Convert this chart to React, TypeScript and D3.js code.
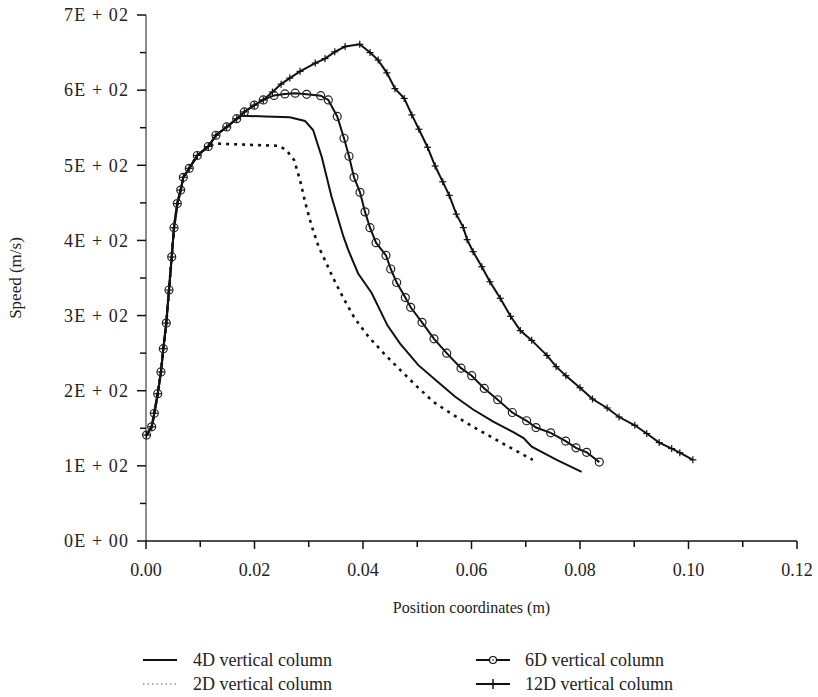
import React from "react";
import * as d3 from "d3";

// ---- data ----
const x6D = [0.0001,0.00105,0.00153,0.00216,0.00276,0.00319,0.00374,0.00424,0.00474,0.00516,0.00577,0.0064,0.00688,0.00798,0.00946,0.01148,0.0129,0.01488,0.01672,0.01812,0.01996,0.02162,0.0236,0.0256,0.0275,0.02962,0.0322,0.0336,0.03525,0.0365,0.03742,0.03834,0.03945,0.04037,0.04129,0.0424,0.04424,0.04511,0.04621,0.0478,0.04879,0.05088,0.05309,0.05543,0.05807,0.06004,0.06236,0.06483,0.06752,0.07016,0.07189,0.0746,0.07736,0.07926,0.08123,0.08356];
const y6D = [141,152,170,196,225,256,290,334,378,417,449,467,484,496,513,525,540,551,562,571,580,587,593,595,596,594.5,592.6,587,565,536,512,484,464,438,417,397,380,362,344,324,311,291,269,250,230,220,203,188,171,160,151,144,133,124,118,105];

const x4D = [0.0001,0.00105,0.00153,0.00216,0.00276,0.00319,0.00374,0.00424,0.00474,0.00516,0.00577,0.0064,0.00688,0.00798,0.00946,0.01148,0.0129,0.01488,0.01672,0.0175,0.022,0.0265,0.0293,0.0308,0.0324,0.0342,0.0364,0.0373,0.0391,0.0416,0.0445,0.0468,0.0502,0.0536,0.057,0.0603,0.064,0.0677,0.0696,0.0711,0.0757,0.0803];
const y4D = [141,152,170,196,225,256,290,334,378,417,449,467,484,496,513,525,540,551,562,566,565,564,559,547,511,458,405,387,356,330,287,263,234,213,192,175,159,145,137,125.5,108,92];

const x2D = [0.0001,0.00105,0.00153,0.00216,0.00276,0.00319,0.00374,0.00424,0.00474,0.00516,0.00577,0.0064,0.00688,0.00798,0.00946,0.01148,0.0129,0.016,0.02,0.0245,0.0259,0.0273,0.0284,0.0294,0.0305,0.0318,0.0327,0.0345,0.0364,0.0385,0.041,0.0438,0.0468,0.0499,0.053,0.0566,0.0603,0.064,0.0677,0.0713];
const y2D = [141,152,170,196,225,256,290,334,378,417,449,467,484,496,513,525,529,528,527,526,520,507,480,449,420,392,378,350,323,296,272,250,228,206,185,168,152,137,122,108];

const x12D = [0.0001,0.00105,0.00153,0.00216,0.00276,0.00319,0.00374,0.00424,0.00474,0.00516,0.00577,0.0064,0.00688,0.00798,0.00946,0.01148,0.0129,0.01488,0.01672,0.01812,0.01996,0.02162,0.0233,0.0249,0.0265,0.0284,0.0312,0.033,0.0348,0.0367,0.0394,0.0413,0.0428,0.0444,0.0459,0.0476,0.049,0.0503,0.0519,0.0533,0.0547,0.0559,0.0572,0.0585,0.0592,0.0603,0.0619,0.0634,0.0653,0.0672,0.069,0.0711,0.0739,0.0756,0.0774,0.08,0.0823,0.085,0.0872,0.0901,0.0923,0.0946,0.0969,0.0984,0.1008];
const y12D = [141,152,170,196,225,256,290,334,378,417,449,467,484,496,513,525,540,551,562,571,580,587,597.5,608,616,625,636,642,651,658,661,650,640,623,602,589,567,548,524,499,478,460,435,417,401,385,365,345,323,299,280,267,247,232,220,204,189,177,165,154,143,131,123,117.5,108];

const xTicks = [0, 0.02, 0.04, 0.06, 0.08, 0.1, 0.12];
const xMinor = [0.01, 0.03, 0.05, 0.07, 0.09, 0.11];
const yTicks = [0, 100, 200, 300, 400, 500, 600, 700];
const yTickLabels = ["0E + 00", "1E + 02", "2E + 02", "3E + 02", "4E + 02", "5E + 02", "6E + 02", "7E + 02"];
const yMinor = [50, 150, 250, 350, 450, 550, 650];

const xTitle = "Position coordinates (m)";
const yTitle = "Speed (m/s)";
const legendLabels = ["4D vertical column", "2D vertical column", "6D vertical column", "12D vertical column"];

const FONT = "'Liberation Serif', 'DejaVu Serif', serif";
const FS = 18;

export default function App() {
  const x = d3.scaleLinear().domain([0, 0.12]).range([146, 797]);
  const y = d3.scaleLinear().domain([0, 700]).range([541, 15]);
  const line = d3.line<[number, number]>().x(d => x(d[0])).y(d => y(d[1]));
  const zip = (a: number[], b: number[]) => a.map((v, i) => [v, b[i]] as [number, number]);
  const d6 = zip(x6D, y6D);
  const d4 = zip(x4D, y4D);
  const d2 = zip(x2D, y2D);
  const d12 = zip(x12D, y12D);

  const plus = (cx: number, cy: number, s: number, key: any) => (
    <g key={key}>
      <line x1={cx - s} x2={cx + s} y1={cy} y2={cy} stroke="#111" strokeWidth={1.2} />
      <line x1={cx} x2={cx} y1={cy - s} y2={cy + s} stroke="#111" strokeWidth={1.2} />
    </g>
  );

  return (
    <svg width={818} height={697} style={{ position: "absolute", left: 0, top: 0, background: "#fff" }} fontFamily={FONT}>
      <rect x={0} y={0} width={818} height={697} fill="#fff" />
      {/* axes */}
      <line x1={x(0)} x2={x(0)} y1={y(700)} y2={y(0)} stroke="#666" strokeWidth={1.5} />
      <line x1={x(0)} x2={x(0.12)} y1={y(0)} y2={y(0)} stroke="#111" strokeWidth={1.5} />
      {yTicks.map((t, i) => (
        <g key={"yt" + i}>
          <line x1={x(0) - 9} x2={x(0)} y1={y(t)} y2={y(t)} stroke="#111" strokeWidth={1.5} />
          <text x={x(0) - 18} y={y(t)} dy="0.35em" textAnchor="end" fontSize={FS} fill="#222"
            textLength={64} lengthAdjust="spacing" style={{ whiteSpace: "pre" }}>{yTickLabels[i]}</text>
        </g>
      ))}
      {yMinor.map((t, i) => (
        <line key={"ym" + i} x1={x(0) - 6} x2={x(0)} y1={y(t)} y2={y(t)} stroke="#111" strokeWidth={1.5} />
      ))}
      {xTicks.map((t, i) => (
        <g key={"xt" + i}>
          <line x1={x(t)} x2={x(t)} y1={y(0)} y2={y(0) + 8} stroke="#111" strokeWidth={1.5} />
          <text x={x(t)} y={y(0) + 35} textAnchor="middle" fontSize={FS} fill="#222">{d3.format(".2f")(t)}</text>
        </g>
      ))}
      {xMinor.map((t, i) => (
        <line key={"xm" + i} x1={x(t)} x2={x(t)} y1={y(0)} y2={y(0) + 6} stroke="#111" strokeWidth={1.5} />
      ))}
      <text x={(x(0) + x(0.12)) / 2} y={613} textAnchor="middle" fontSize={16} fill="#222">{xTitle}</text>
      <text transform={`translate(21,${(y(0) + y(700)) / 2}) rotate(-90)`} textAnchor="middle" fontSize={17} fill="#222">{yTitle}</text>

      {/* series */}
      <path d={line(d2) || ""} fill="none" stroke="#111" strokeWidth={2.6} strokeDasharray="3,5" />
      <path d={line(d4) || ""} fill="none" stroke="#111" strokeWidth={2} />
      <path d={line(d12) || ""} fill="none" stroke="#111" strokeWidth={2} />
      {d12.map((p, i) => plus(x(p[0]), y(p[1]), 3.5, "p" + i))}
      <path d={line(d6) || ""} fill="none" stroke="#111" strokeWidth={2} />
      {d6.map((p, i) => (
        <circle key={"c" + i} cx={x(p[0])} cy={y(p[1])} r={4} fill="none" stroke="#222" strokeWidth={1.2} />
      ))}

      {/* legend */}
      <g fontSize={FS} fill="#222">
        <line x1={143} x2={177} y1={660} y2={660} stroke="#111" strokeWidth={2} />
        <text x={193} y={666}>{legendLabels[0]}</text>
        <line x1={143} x2={177} y1={684} y2={684} stroke="#555" strokeWidth={1.2} strokeDasharray="1.5,3" />
        <text x={193} y={690}>{legendLabels[1]}</text>
        <line x1={476} x2={510} y1={660} y2={660} stroke="#111" strokeWidth={2} />
        <circle cx={493} cy={660} r={3.5} fill="#fff" stroke="#111" strokeWidth={1.2} />
        <circle cx={493} cy={660} r={0.8} fill="#111" />
        <text x={525} y={666}>{legendLabels[2]}</text>
        <line x1={476} x2={510} y1={684} y2={684} stroke="#111" strokeWidth={2} />
        <line x1={493} x2={493} y1={679} y2={689} stroke="#111" strokeWidth={1.5} />
        <text x={525} y={690}>{legendLabels[3]}</text>
      </g>
    </svg>
  );
}
